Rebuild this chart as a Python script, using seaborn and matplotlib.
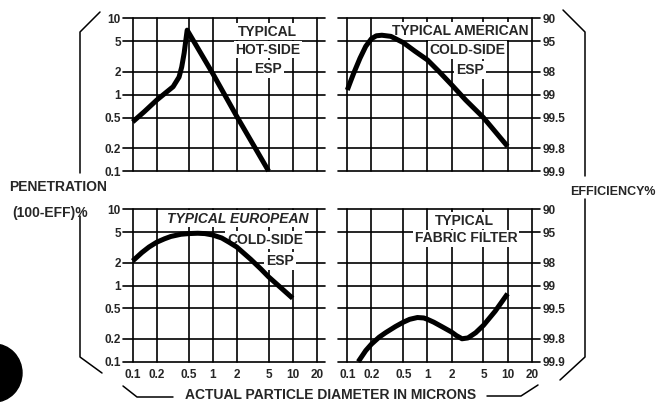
import numpy as np
import matplotlib
matplotlib.use("Agg")
import matplotlib.pyplot as plt
import seaborn as sns
from matplotlib.lines import Line2D
from matplotlib.patches import Ellipse
from matplotlib.ticker import NullLocator

W, H = 657, 404

# ---------------------------------------------------
#   data
# ---------------------------------------------------
size_ticks = [0.1, 0.2, 0.5, 1, 2, 5, 10, 20]
size_labels = ["0.1", "0.2", "0.5", "1", "2", "5", "10", "20"]
pen_ticks = [0.1, 0.2, 0.5, 1, 2, 5, 10]
pen_labels = ["0.1", "0.2", "0.5", "1", "2", "5", "10"]
eff_labels = ["99.9", "99.8", "99.5", "99", "98", "95", "90"]

hot_size = [0.1, 0.14, 0.2, 0.32, 0.38, 0.41, 0.44, 0.46, 0.48, 1, 2, 5]
hot_pen = [0.44, 0.6, 0.85, 1.27, 1.7, 2.3, 3.5, 5.0, 7.0, 1.9, 0.52, 0.1]

us_size = [0.1, 0.11, 0.12, 0.144, 0.17, 0.2, 0.23, 0.27, 0.35, 0.5, 0.7, 1, 1.4, 2, 3, 5, 10]
us_pen = [1.15, 1.5, 1.9, 3.0, 4.3, 5.4, 5.9, 6.0, 5.8, 4.8, 3.7, 2.85, 2.0, 1.35, 0.85, 0.5, 0.21]

eu_size = [0.1, 0.13, 0.16, 0.2, 0.25, 0.3, 0.4, 0.5, 0.65, 0.8, 1, 1.3, 1.6, 2, 3, 4, 5, 7, 10]
eu_pen = [2.1, 2.7, 3.2, 3.7, 4.1, 4.4, 4.7, 4.8, 4.85, 4.8, 4.6, 4.2, 3.7, 3.2, 2.2, 1.65, 1.3, 0.95, 0.68]

ff_size = [0.137, 0.17, 0.2, 0.25, 0.3, 0.4, 0.5, 0.6, 0.75, 0.9, 1, 1.2, 1.5, 2, 2.3, 2.7, 3.2, 4, 5, 7, 10]
ff_pen = [0.1, 0.14, 0.17, 0.21, 0.24, 0.29, 0.33, 0.36, 0.38, 0.375, 0.36, 0.33, 0.29, 0.245, 0.22, 0.2, 0.205, 0.24, 0.3, 0.46, 0.78]


def px_rect(left, top, right, bottom):
	return [left / W, 1 - bottom / H, (right - left) / W, (bottom - top) / H]

def fx(x):
	return x / W

def fy(y):
	return 1 - y / H


#---------------------------------------------------
#   one grid panel
#---------------------------------------------------
def panel(fig, x01, x20, y10, y01, ext_l, ext_r, side, show_x):
	ppd = (x20 - x01) / np.log10(200)
	ax = fig.add_axes(px_rect(x01 - ext_l, y10, x20 + ext_r, y01))
	ax.set_xscale("log")
	ax.set_yscale("log")
	ax.set_xlim(0.1 * 10 ** (-ext_l / ppd), 20 * 10 ** (ext_r / ppd))
	ax.set_ylim(0.1, 10)
	ax.set_xticks(size_ticks)
	ax.set_xticklabels(size_labels if show_x else [])
	ax.set_yticks(pen_ticks)
	if side == "left":
		ax.set_yticklabels(pen_labels)
	else:
		ax.yaxis.tick_right()
		ax.set_yticklabels(eff_labels)
	ax.xaxis.set_minor_locator(NullLocator())
	ax.yaxis.set_minor_locator(NullLocator())
	ax.tick_params(axis="x", length=4.5, width=1.2, direction="out", pad=1,
		labelsize=8.5, color="black")
	ax.tick_params(axis="y", length=0, pad=1.5 if side == "left" else 2, labelsize=8.5)
	for lbl in ax.get_xticklabels() + ax.get_yticklabels():
		lbl.set_fontweight("bold")
	ax.grid(True, color="black", lw=1.2)
	for ln in ax.get_xgridlines() + ax.get_ygridlines():
		ln.set_clip_on(False)
	for s in ax.spines.values():
		s.set_visible(False)
	ax.set_facecolor("none")
	return ax


def label(ax, x, y, s, style="normal"):
	ax.text(fx(x), fy(y + 5), s, transform=ax.figure.transFigure, ha="center",
		va="baseline", fontsize=10, fontweight="bold", fontstyle=style, zorder=2.5,
		bbox=dict(facecolor="white", edgecolor="none", pad=1.2))


sns.set_style("white")
plt.rcParams["font.family"] = ["Liberation Sans", "DejaVu Sans"]

fig = plt.figure(figsize=(W / 100, H / 100), dpi=100)

ax_tl = panel(fig, 132.7, 316.7, 18.3, 171, 9.7, 8.3, "left", False)
ax_tr = panel(fig, 347.3, 531.7, 18.3, 171, 9.3, 8.3, "right", False)
ax_bl = panel(fig, 132.7, 316.7, 209.3, 361.7, 9.7, 8.3, "left", True)
ax_br = panel(fig, 347.3, 531.7, 209.3, 361.7, 9.3, 8.3, "right", True)

for ax, xs, ys in [(ax_tl, hot_size, hot_pen), (ax_tr, us_size, us_pen),
		(ax_bl, eu_size, eu_pen), (ax_br, ff_size, ff_pen)]:
	sns.lineplot(x=xs, y=ys, ax=ax, color="black", linewidth=3.6, legend=False,
		clip_on=False, zorder=3, solid_capstyle="butt", solid_joinstyle="round")

label(ax_tl, 267, 30.5, "TYPICAL")
label(ax_tl, 268, 48.5, "HOT-SIDE")
label(ax_tl, 268, 68, "ESP")
label(ax_tr, 460, 30, "TYPICAL AMERICAN")
label(ax_tr, 467.5, 49, "COLD-SIDE")
label(ax_tr, 470, 69, "ESP")
label(ax_bl, 238, 217.5, "TYPICAL EUROPEAN", "italic")
label(ax_bl, 265, 239, "COLD-SIDE")
label(ax_bl, 280, 260, "ESP")
label(ax_br, 464, 219.5, "TYPICAL")
label(ax_br, 466, 237.5, "FABRIC FILTER")

# axis titles
fig.text(fx(58.5), fy(187), "PENETRATION", ha="center", va="center",
	fontsize=10, fontweight="bold")
fig.text(fx(50), fy(213), "(100-EFF)%", ha="center", va="center",
	fontsize=10, fontweight="bold")
fig.text(fx(656), fy(192), "EFFICIENCY%", ha="right", va="center",
	fontsize=9, fontweight="bold")
fig.text(fx(331), fy(395), "ACTUAL PARTICLE DIAMETER IN MICRONS", ha="center",
	va="center", fontsize=10, fontweight="bold")

# bracket lines
brackets = [
	[(100, 12), (80, 32), (80, 173)],
	[(80, 216), (80, 357), (102, 373)],
	[(563, 10), (585, 32), (585, 176)],
	[(585, 199), (585, 357), (560, 380)],
	[(123, 386), (137, 397), (173, 397)],
	[(487, 396), (521, 396), (538, 385)],
]
for pts in brackets:
	fig.add_artist(Line2D([fx(p[0]) for p in pts], [fy(p[1]) for p in pts],
		transform=fig.transFigure, color="black", lw=1.1))

# punch hole of the scan
fig.add_artist(Ellipse((fx(-6), fy(373)), 56 / W, 58 / H, transform=fig.transFigure,
	color="black"))

fig.savefig("out.png", dpi=100, facecolor="white")
